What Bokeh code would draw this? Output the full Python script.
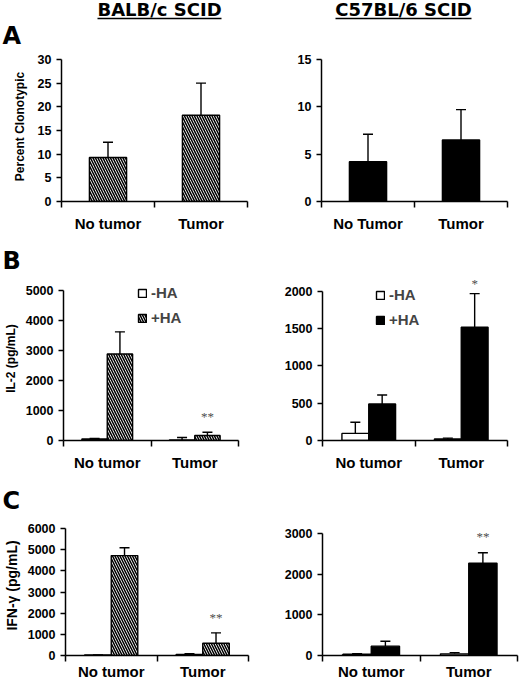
import numpy as np
from bokeh.plotting import figure
from bokeh.models import (ColumnDataSource, Whisker, TeeHead, FixedTicker,
                          LabelSet, Legend, LegendItem)
from bokeh.core.properties import value
from bokeh.layouts import column, row
from bokeh.embed import file_html
from bokeh.resources import INLINE


## data ##

groups_balb = ["No tumor", "Tumor"]
groups_c57 = ["No Tumor", "Tumor"]

# A: percent clonotypic
clono_balb = [9.3, 18.2]
clono_balb_sd = [3.2, 6.8]
clono_c57 = [4.2, 6.5]
clono_c57_sd = [2.9, 3.2]

# B: IL-2 (pg/mL), -HA / +HA
il2_balb_neg = [50, 15]
il2_balb_neg_sd = [20, 85]
il2_balb_pos = [2880, 165]
il2_balb_pos_sd = [740, 110]
il2_c57_neg = [95, 20]
il2_c57_neg_sd = [150, 12]
il2_c57_pos = [490, 1520]
il2_c57_pos_sd = [120, 450]

# C: IFN-gamma (pg/mL), -HA / +HA
ifn_balb_neg = [30, 45]
ifn_balb_neg_sd = [10, 40]
ifn_balb_pos = [4720, 580]
ifn_balb_pos_sd = [370, 490]
ifn_c57_neg = [30, 40]
ifn_c57_neg_sd = [12, 30]
ifn_c57_pos = [230, 2270]
ifn_c57_pos_sd = [120, 255]

# significance marks over the +HA bars
il2_balb_sig = ["", "**"]
il2_c57_sig = ["", "*"]
ifn_balb_sig = ["", "**"]
ifn_c57_sig = ["", "**"]

ticks_clono_balb = [0, 5, 10, 15, 20, 25, 30]
ticks_clono_c57 = [0, 5, 10, 15]
ticks_il2_balb = [0, 1000, 2000, 3000, 4000, 5000]
ticks_il2_c57 = [0, 500, 1000, 1500, 2000]
ticks_ifn_balb = [0, 1000, 2000, 3000, 4000, 5000, 6000]
ticks_ifn_c57 = [0, 1000, 2000, 3000]

strains = ["BALB/c SCID", "C57BL/6 SCID"]

HEAD = "DejaVu Sans"
TXT = "Liberation Sans"


def base_figure(width, height, borders, pad, yticks, cats, label_standoff):
    # frame runs to the top of the figure; the axis stops at the last tick
    left, right, bottom = borders
    frame_h = height - bottom
    y_end = yticks[-1] * frame_h / (frame_h - pad)
    p = figure(width=width, height=height, x_range=(0, len(cats)), y_range=(0, y_end),
               output_backend="svg", toolbar_location=None, title=None,
               min_border_left=left, min_border_right=right,
               min_border_top=0, min_border_bottom=bottom)
    p.grid.visible = False
    p.outline_line_color = None
    p.background_fill_color = "white"
    p.border_fill_color = "white"

    # category labels in the middle, ticks on the category edges
    centres = [i + 0.5 for i in range(len(cats))]
    p.xaxis.ticker = FixedTicker(ticks=centres, minor_ticks=list(range(len(cats) + 1)))
    p.xaxis.major_label_overrides = {c: t for c, t in zip(centres, cats)}
    p.xaxis.major_tick_line_color = None
    p.xaxis.major_tick_out = 0
    p.xaxis.major_tick_in = 0
    p.xaxis.minor_tick_line_color = "black"
    p.xaxis.minor_tick_line_width = 1.5
    p.xaxis.minor_tick_out = 6
    p.xaxis.minor_tick_in = 0
    p.xaxis.major_label_text_font_size = "15px"
    p.xaxis.major_label_standoff = label_standoff

    p.yaxis.ticker = FixedTicker(ticks=yticks)
    p.yaxis.bounds = (0, yticks[-1])
    p.yaxis.major_tick_out = 5
    p.yaxis.major_tick_in = 0
    p.yaxis.major_tick_line_width = 1.5
    p.yaxis.minor_tick_line_color = None
    p.yaxis.major_label_text_font_size = "12.5px"
    p.yaxis.major_label_standoff = 5

    for ax in (p.xaxis[0], p.yaxis[0]):
        ax.axis_line_width = 1.5
        ax.axis_line_color = "black"
        ax.major_label_text_font = TXT
        ax.major_label_text_font_style = "bold"
        ax.major_label_text_color = "black"
    return p


def set_ylabel(p, text, size, standoff):
    p.yaxis.axis_label = text
    p.yaxis.axis_label_text_font = TXT
    p.yaxis.axis_label_text_font_style = "bold"
    p.yaxis.axis_label_text_font_size = size
    p.yaxis.axis_label_text_color = "black"
    p.yaxis.axis_label_standoff = standoff


def add_errors(p, xs, vals, sds):
    src = ColumnDataSource(dict(x=xs, base=vals, upper=[v + s for v, s in zip(vals, sds)]))
    p.add_layout(Whisker(source=src, base="x", lower="base", upper="upper",
                         line_color="black", line_width=1.4, lower_head=None,
                         upper_head=TeeHead(size=10, line_color="black", line_width=1.4)))


def bar_style(kind):
    if kind == "hatch":
        return dict(fill_color="white", hatch_pattern="\\", hatch_color="black",
                    hatch_scale=5, hatch_weight=1.5)
    if kind == "black":
        return dict(fill_color="black")
    return dict(fill_color="white")


def header(width, height, letter, letter_y, titles=None):
    p = figure(width=width, height=height, x_range=(0, width), y_range=(height, 0),
               x_axis_type=None, y_axis_type=None, output_backend="svg",
               toolbar_location=None, title=None, min_border=0)
    p.grid.visible = False
    p.outline_line_color = None
    p.text(x=[2], y=[letter_y], text=[letter], text_font=value(HEAD), text_font_style="bold",
           text_font_size="24px", text_baseline="middle", text_color="black")
    if titles:
        xs, half = titles
        p.text(x=xs, y=[9] * len(xs), text=strains, text_font=value(HEAD),
               text_font_style="bold", text_font_size="18px", text_align="center",
               text_baseline="middle", text_color="black")
        # underline the strain names
        p.segment(x0=[x - h for x, h in zip(xs, half)], x1=[x + h for x, h in zip(xs, half)],
                  y0=[18] * len(xs), y1=[18] * len(xs), line_color="black", line_width=1.7)
    return p


def clono_panel(width, height, borders, pad, cats, vals, sds, yticks, kind):
    p = base_figure(width, height, borders, pad, yticks, cats, 7)
    xs = [i + 0.5 for i in range(len(cats))]
    p.vbar(x=xs, top=vals, bottom=0, width=0.4, line_color="black", line_width=1.4,
           **bar_style(kind))
    add_errors(p, xs, vals, sds)
    return p


def cytokine_panel(width, height, borders, pad, cats, neg, neg_sd, pos, pos_sd, sig, yticks,
                   kind, label_standoff, sig_offset, legend_at=None):
    p = base_figure(width, height, borders, pad, yticks, cats, label_standoff)
    w = 0.29
    x_neg = [i + 0.5 - w / 2 for i in range(len(cats))]
    x_pos = [i + 0.5 + w / 2 for i in range(len(cats))]
    r_neg = p.vbar(x=x_neg, top=neg, bottom=0, width=w, line_color="black", line_width=1.4,
                   **bar_style("white"))
    r_pos = p.vbar(x=x_pos, top=pos, bottom=0, width=w, line_color="black", line_width=1.4,
                   **bar_style(kind))
    add_errors(p, x_neg, neg, neg_sd)
    add_errors(p, x_pos, pos, pos_sd)

    sig_src = ColumnDataSource(dict(x=x_pos, y=[v + s for v, s in zip(pos, pos_sd)], text=sig))
    p.add_layout(LabelSet(x="x", y="y", text="text", source=sig_src, text_align="center",
                          text_baseline="bottom", y_offset=sig_offset, text_font=HEAD,
                          text_font_size="13px", text_color="#4d4d4d"))

    if legend_at:
        legend = Legend(items=[LegendItem(label="-HA", renderers=[r_neg]),
                               LegendItem(label="+HA", renderers=[r_pos])],
                        location=legend_at, glyph_width=10, glyph_height=10,
                        label_text_font=TXT, label_text_font_style="bold",
                        label_text_font_size="15px", label_height=16, label_standoff=4,
                        spacing=8, padding=0, margin=0, border_line_color=None,
                        background_fill_alpha=0)
        p.add_layout(legend)
    return p


def main():
    # columns: 262 + 257 px; rows: header/plot pairs
    head_a = header(519, 51, "A", 35, titles=([159, 403], [62, 68]))
    pa1 = clono_panel(262, 183, (61, 15, 32), 8, groups_balb, clono_balb, clono_balb_sd,
                      ticks_clono_balb, "hatch")
    set_ylabel(pa1, "Percent Clonotypic", "12px", 8)
    pa2 = clono_panel(257, 183, (59, 12, 32), 8, groups_c57, clono_c57, clono_c57_sd,
                      ticks_clono_c57, "black")

    head_b = header(519, 42, "B", 26)
    pb1 = cytokine_panel(262, 197, (59, 24, 32), 14, groups_balb, il2_balb_neg, il2_balb_neg_sd,
                         il2_balb_pos, il2_balb_pos_sd, il2_balb_sig, ticks_il2_balb, "hatch",
                         7, 8, legend_at=(74, 114))
    set_ylabel(pb1, "IL-2 (pg/mL)", "12px", 5)
    pb2 = cytokine_panel(257, 197, (60, 12, 32), 15, groups_balb, il2_c57_neg, il2_c57_neg_sd,
                         il2_c57_pos, il2_c57_pos_sd, il2_c57_sig, ticks_il2_c57, "black",
                         7, 3, legend_at=(53, 112))

    head_c = header(519, 42, "C", 27)
    pc1 = cytokine_panel(262, 167, (60, 14, 27), 13, groups_balb, ifn_balb_neg, ifn_balb_neg_sd,
                         ifn_balb_pos, ifn_balb_pos_sd, ifn_balb_sig, ticks_ifn_balb, "hatch",
                         1, 8)
    set_ylabel(pc1, "IFN-γ (pg/mL)", "14px", 5)
    pc2 = cytokine_panel(257, 167, (60, 2, 27), 18, groups_balb, ifn_c57_neg, ifn_c57_neg_sd,
                         ifn_c57_pos, ifn_c57_pos_sd, ifn_c57_sig, ticks_ifn_c57, "black",
                         1, 9)

    layout = column(head_a, row(pa1, pa2), head_b, row(pb1, pb2), head_c, row(pc1, pc2))
    open("out.html", "w").write(file_html(layout, INLINE))


if __name__ == "__main__":
    main()
